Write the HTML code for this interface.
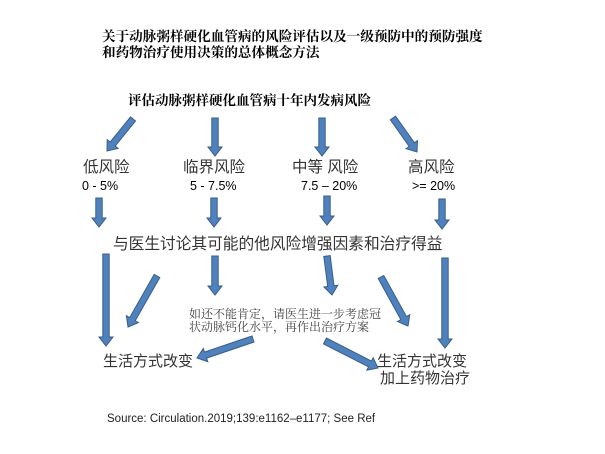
<!DOCTYPE html>
<html><head><meta charset="utf-8"><style>
body{margin:0;background:#fff;}
#c{position:relative;width:605px;height:454px;overflow:hidden;}
.t{position:absolute;white-space:nowrap;line-height:1;}
.s{font-family:"Liberation Serif","Noto Serif CJK SC",serif;}
.ss{font-family:"Liberation Sans","Noto Sans CJK SC",sans-serif;}
svg{position:absolute;left:0;top:0;}
</style></head><body><div id="c">
<svg width="605" height="454" id="g"></svg>
<div class="t s" style="left:102px;top:30px;font-size:13.6px;font-weight:bold;">关于动脉粥样硬化血管病的风险评估以及一级预防中的预防强度</div>
<div class="t s" style="left:102px;top:46px;font-size:13.6px;font-weight:bold;">和药物治疗使用决策的总体概念方法</div>
<div class="t s" style="left:128px;top:94px;font-size:13.5px;font-weight:bold;">评估动脉粥样硬化血管病十年内发病风险</div>
<div class="t ss" style="left:83px;top:160px;font-size:15.5px;color:#333;">低风险</div>
<div class="t ss" style="left:183px;top:160px;font-size:15.5px;color:#333;">临界风险</div>
<div class="t ss" style="left:292px;top:160px;font-size:15.5px;color:#333;">中等 风险</div>
<div class="t ss" style="left:408px;top:160px;font-size:15.5px;color:#333;">高风险</div>
<div class="t ss" style="left:82px;top:180px;font-size:12.5px;">0 - 5%</div>
<div class="t ss" style="left:190px;top:180px;font-size:12.5px;">5 - 7.5%</div>
<div class="t ss" style="left:301px;top:180px;font-size:12.5px;">7.5 – 20%</div>
<div class="t ss" style="left:412px;top:180px;font-size:12.5px;">&gt;= 20%</div>
<div class="t ss" style="left:113px;top:237px;font-size:15.7px;color:#333;">与医生讨论其可能的他风险增强因素和治疗得益</div>
<div class="t s" style="left:189px;top:308px;font-size:12px;color:#444;">如还不能肯定，请医生进一步考虑冠</div>
<div class="t s" style="left:189px;top:321px;font-size:12px;color:#444;">状动脉钙化水平，再作出治疗方案</div>
<div class="t ss" style="left:103px;top:354px;font-size:15px;color:#333;">生活方式改变</div>
<div class="t ss" style="left:377px;top:354px;font-size:15px;color:#333;">生活方式改变</div>
<div class="t ss" style="left:380px;top:371px;font-size:15px;color:#333;">加上药物治疗</div>
<div class="t ss" style="left:107px;top:414px;font-size:11.5px;color:#222;">Source: Circulation.2019;139:e1162–e1177; See Ref</div>
</div>
<script>
var A=[[133,119,107,151],[215,118,215,156],[322,118,322,156],[393,118,417,152],
[99,198,99,227],[214,198,214,227],[327,196,327,225],[442,199,442,229],
[106,254,106,346],[157,276,128,327],[215,256,215,295],[327,256,332,295],[381,277,408,326],[445,258,445,348],
[253,339,197,358],[325,341,378,368]];
var s='';
A.forEach(function(a){var dx=a[2]-a[0],dy=a[3]-a[1],L=Math.sqrt(dx*dx+dy*dy),ux=dx/L,uy=dy/L,px=-uy,py=ux,w=3.2,h=7,hl=9;
var bx=a[2]-ux*hl,by=a[3]-uy*hl;
var p=[[a[0]+px*w,a[1]+py*w],[bx+px*w,by+py*w],[bx+px*h,by+py*h],[a[2],a[3]],[bx-px*h,by-py*h],[bx-px*w,by-py*w],[a[0]-px*w,a[1]-py*w]];
s+='<polygon points="'+p.map(function(q){return q[0].toFixed(1)+','+q[1].toFixed(1)}).join(' ')+'" fill="#4f81bd" stroke="#385d8a" stroke-width="1"/>';});
document.getElementById('g').innerHTML=s;
</script>
</body></html>
